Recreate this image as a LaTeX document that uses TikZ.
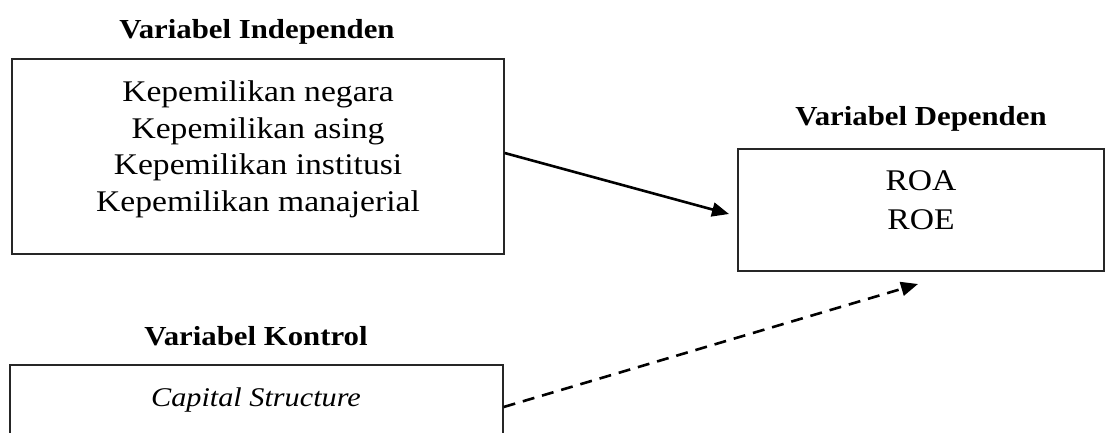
\documentclass[tikz,border=0pt]{standalone}
\usepackage{fontspec}
\setmainfont{Liberation Serif}[FakeStretch=1.12]
\usetikzlibrary{arrows.meta}
\tikzset{
  box/.style={draw=black!85, line width=1.3pt, inner sep=0pt},
  body/.style={anchor=base, inner sep=0pt, font=\fontsize{30}{36}\selectfont},
  ttl/.style={anchor=base, inner sep=0pt, font=\fontsize{27.5}{32}\selectfont\bfseries},
  ital/.style={anchor=base, inner sep=0pt, font=\fontsize{27}{32}\selectfont\itshape},
  conn/.style={line width=2.6pt, -{Triangle[length=17pt,width=14pt]}},
}
\begin{document}
\begin{tikzpicture}[x=1pt,y=-1pt]
\useasboundingbox (0,0) rectangle (1106,432);
% independent
\node[ttl] (tind) at (257,38) {Variabel Independen};
\node[box, minimum width=492pt, minimum height=195pt] (ind) at (258,156.5) {};
\node[body] (l1) at (258,101) {Kepemilikan negara};
\node[body] (l2) at (258,138) {Kepemilikan asing};
\node[body] (l3) at (258,174) {Kepemilikan institusi};
\node[body] (l4) at (258,211) {Kepemilikan manajerial};
% dependent
\node[ttl] (tdep) at (921,125) {Variabel Dependen};
\node[box, minimum width=366pt, minimum height=122pt] (dep) at (921,210) {};
\node[body] (roa) at (921,190) {ROA};
\node[body] (roe) at (921,229) {ROE};
% control
\node[ttl] (tkon) at (256,345) {Variabel Kontrol};
\node[box, minimum width=493pt, minimum height=110pt] (kon) at (256.5,420) {};
\node[ital] (cap) at (256,406) {Capital Structure};
% connectors
\coordinate (a1) at (729,214);
\coordinate (a2) at (918,284);
\draw[conn] (ind.east |- 0,153) -- (a1);
\draw[conn, dash pattern=on 12pt off 8pt] (kon.east |- 0,407) -- (a2);
\end{tikzpicture}
\end{document}
